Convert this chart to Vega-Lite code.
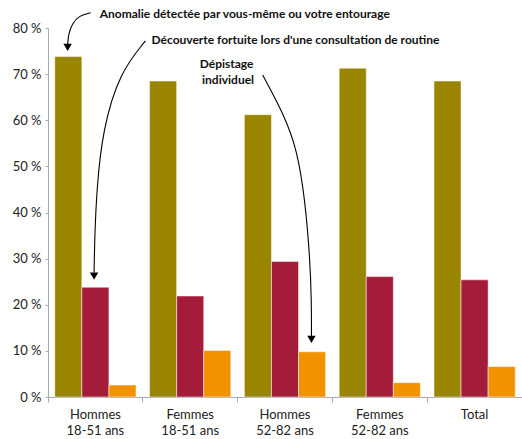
{
  "$schema": "https://vega.github.io/schema/vega-lite/v6.json",
  "autosize": "none",
  "padding": {"left": 48, "top": 28, "right": 0, "bottom": 42},
  "width": 474,
  "height": 369,
  "background": "white",
  "config": {"view": {"stroke": null}, "font": "Lato"},
  "datasets": {
    "bars": [
      {"groupe": "Hommes 18-51 ans", "serie": "Anomalie", "valeur": 73.8},
      {"groupe": "Hommes 18-51 ans", "serie": "Découverte", "valeur": 23.8},
      {"groupe": "Hommes 18-51 ans", "serie": "Dépistage", "valeur": 2.6},
      {"groupe": "Femmes 18-51 ans", "serie": "Anomalie", "valeur": 68.5},
      {"groupe": "Femmes 18-51 ans", "serie": "Découverte", "valeur": 21.9},
      {"groupe": "Femmes 18-51 ans", "serie": "Dépistage", "valeur": 10.1},
      {"groupe": "Hommes 52-82 ans", "serie": "Anomalie", "valeur": 61.2},
      {"groupe": "Hommes 52-82 ans", "serie": "Découverte", "valeur": 29.4},
      {"groupe": "Hommes 52-82 ans", "serie": "Dépistage", "valeur": 9.8},
      {"groupe": "Femmes 52-82 ans", "serie": "Anomalie", "valeur": 71.3},
      {"groupe": "Femmes 52-82 ans", "serie": "Découverte", "valeur": 26.1},
      {"groupe": "Femmes 52-82 ans", "serie": "Dépistage", "valeur": 3.1},
      {"groupe": "Total", "serie": "Anomalie", "valeur": 68.5},
      {"groupe": "Total", "serie": "Découverte", "valeur": 25.4},
      {"groupe": "Total", "serie": "Dépistage", "valeur": 6.6}
    ],
    "labels": [
      {"u": 0.545, "y": 83.1, "t": "Anomalie détectée par vous-même ou votre entourage"},
      {"u": 1.092, "y": 77.4, "t": "Découverte fortuite lors d'une consultation de routine"},
      {"u": 1.60, "y": 72.2, "t": "Dépistage"},
      {"u": 1.625, "y": 68.7, "t": "individuel"}
    ],
    "arrows": [
      {"arrow": 1, "i": 0, "u": 0.45, "y": 83.3},
      {"arrow": 1, "i": 1, "u": 0.33, "y": 82.7},
      {"arrow": 1, "i": 2, "u": 0.255, "y": 81.0},
      {"arrow": 1, "i": 3, "u": 0.215, "y": 78.6},
      {"arrow": 1, "i": 4, "u": 0.207, "y": 76.4},
      {"arrow": 2, "i": 0, "u": 1.028, "y": 77.2},
      {"arrow": 2, "i": 1, "u": 0.755, "y": 70.3},
      {"arrow": 2, "i": 2, "u": 0.576, "y": 57.9},
      {"arrow": 2, "i": 3, "u": 0.513, "y": 44.9},
      {"arrow": 2, "i": 4, "u": 0.492, "y": 34.1},
      {"arrow": 2, "i": 5, "u": 0.486, "y": 27.0},
      {"arrow": 3, "i": 0, "u": 2.265, "y": 69.8},
      {"arrow": 3, "i": 1, "u": 2.49, "y": 61.2},
      {"arrow": 3, "i": 2, "u": 2.628, "y": 53.6},
      {"arrow": 3, "i": 3, "u": 2.712, "y": 42.7},
      {"arrow": 3, "i": 4, "u": 2.764, "y": 29.7},
      {"arrow": 3, "i": 5, "u": 2.779, "y": 21.0},
      {"arrow": 3, "i": 6, "u": 2.779, "y": 13.2}
    ],
    "heads": [
      {"u": 0.207, "y": 75.8},
      {"u": 0.486, "y": 26.2},
      {"u": 2.779, "y": 12.5}
    ]
  },
  "layer": [
    {
      "data": {"name": "bars"},
      "mark": {"type": "bar", "stroke": "#ffffff", "strokeOpacity": 0.5, "strokeWidth": 1},
      "encoding": {
        "x": {
          "field": "groupe", "type": "nominal", "sort": null,
          "scale": {"paddingInner": 0, "paddingOuter": 0},
          "axis": {
            "title": null, "labelAngle": 0, "domainColor": "#aaaaaa", "tickColor": "#aaaaaa",
            "bandPosition": 0, "tickSize": 5, "labelFontSize": 13, "labelColor": "#222222",
            "labelPadding": 6, "labelLineHeight": 16, "labelFont": "Lato",
            "labelExpr": "indexof(datum.label, ' ') > 0 ? [slice(datum.label, 0, indexof(datum.label, ' ')), slice(datum.label, indexof(datum.label, ' ') + 1)] : datum.label"
          }
        },
        "xOffset": {
          "field": "serie", "type": "nominal", "sort": null,
          "scale": {"paddingInner": 0, "paddingOuter": 0.25}
        },
        "y": {
          "field": "valeur", "type": "quantitative",
          "scale": {"domain": [0, 80], "nice": false},
          "axis": {
            "title": null, "values": [0, 10, 20, 30, 40, 50, 60, 70, 80], "grid": false,
            "domainColor": "#aaaaaa", "tickColor": "#aaaaaa", "tickSize": 3,
            "labelFontSize": 13, "labelColor": "#222222", "labelPadding": 4, "labelFont": "Lato",
            "labelExpr": "datum.value + ' %'"
          }
        },
        "color": {
          "field": "serie", "type": "nominal", "sort": null, "legend": null,
          "scale": {"domain": ["Anomalie", "Découverte", "Dépistage"], "range": ["#9a8500", "#a51c3a", "#f39200"]}
        }
      }
    },
    {
      "data": {"name": "arrows"},
      "mark": {"type": "line", "interpolate": "basis", "color": "#000000", "strokeWidth": 1.1},
      "encoding": {
        "x": {"field": "u", "type": "quantitative", "scale": {"domain": [0, 5], "nice": false, "zero": false}, "axis": null},
        "y": {"field": "y", "type": "quantitative"},
        "detail": {"field": "arrow"},
        "order": {"field": "i"}
      }
    },
    {
      "data": {"name": "heads"},
      "mark": {"type": "point", "shape": "triangle-down", "filled": true, "color": "#000000", "size": 70, "opacity": 1},
      "encoding": {
        "x": {"field": "u", "type": "quantitative", "scale": {"domain": [0, 5], "nice": false, "zero": false}, "axis": null},
        "y": {"field": "y", "type": "quantitative"}
      }
    },
    {
      "data": {"name": "labels"},
      "mark": {"type": "text", "fontWeight": "bold", "fontSize": 12, "color": "#111111", "baseline": "middle", "align": "left", "font": "Lato"},
      "encoding": {
        "x": {"field": "u", "type": "quantitative", "scale": {"domain": [0, 5], "nice": false, "zero": false}, "axis": null},
        "y": {"field": "y", "type": "quantitative"},
        "text": {"field": "t"}
      }
    }
  ],
  "resolve": {"scale": {"x": "independent", "color": "independent"}}
}
